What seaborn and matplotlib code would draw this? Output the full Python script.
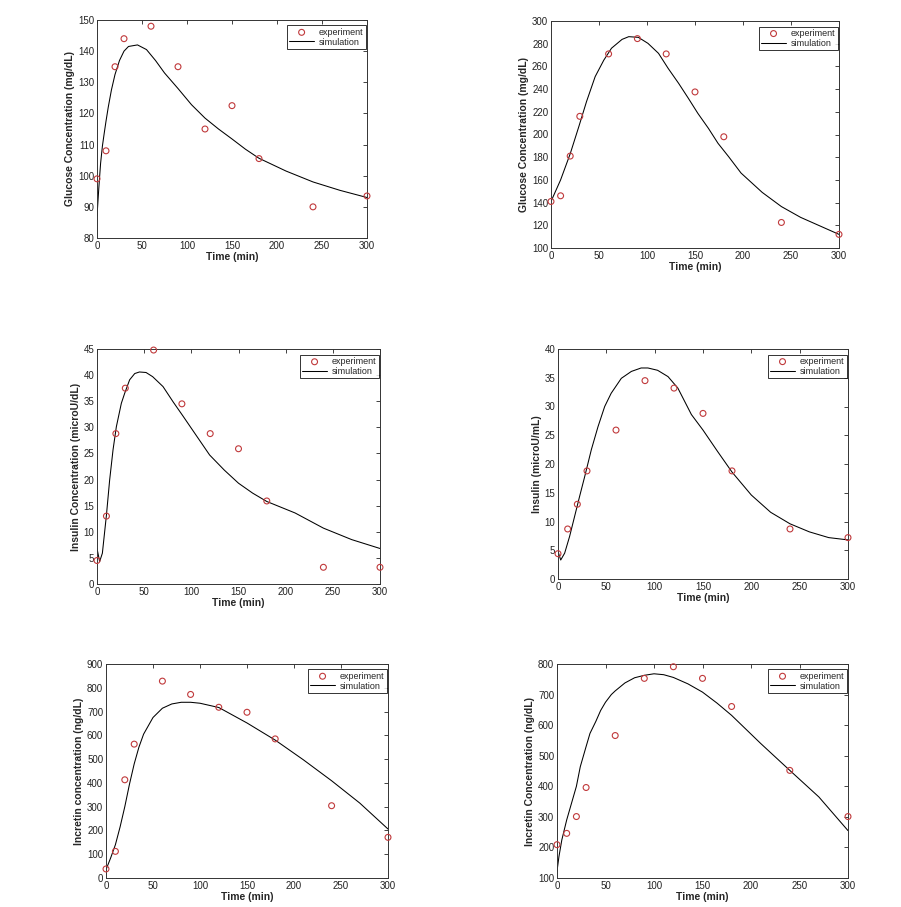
import numpy as np
import pandas as pd
import matplotlib
matplotlib.use("Agg")
import matplotlib.pyplot as plt
import seaborn as sns

# ---------------- data ----------------
t_exp = [0, 10, 20, 30, 60, 90, 120, 150, 180, 240, 300]

glu1_exp = [99, 108, 135, 144, 148, 135, 115, 122.5, 105.5, 90, 93.5]
glu1_t = [0, 2, 4, 6, 8, 10, 12.5, 16, 20, 25, 30, 35, 45, 55, 65, 75, 90, 105,
          120, 135, 150, 165, 180, 210, 240, 270, 300]
glu1_sim = [87, 96, 104, 109.5, 113.6, 117.5, 122, 127.5, 132.5, 137, 140, 141.5,
            142, 140.5, 137, 133, 128, 122.8, 118.5, 115, 111.8, 108.5, 105.6,
            101.5, 98, 95.3, 93]

glu2_exp = [141, 146, 181, 216, 271, 284.5, 271, 237.5, 198, 122.5, 112]
glu2_t = [0, 10, 20, 29, 37, 46, 55, 63, 74, 81, 91, 101, 112, 122, 133, 143,
          153, 164, 174, 185, 198, 220, 240, 260, 280, 300]
glu2_sim = [141, 160, 183, 207, 229, 251, 265.5, 276, 283.8, 286.2, 285.6, 280.3,
            271.5, 258.3, 245, 232, 218.6, 205.4, 192.2, 180.5, 166, 149, 136.5,
            127, 119.5, 112]

ins1_exp = [4.5, 13, 28.8, 37.5, 44.8, 34.5, 28.8, 25.9, 15.9, 3.2, 3.2]
ins1_t = [0, 2.8, 5.7, 10, 13.4, 17, 20.5, 25.8, 29.3, 34.6, 40, 45, 52, 59, 70,
          80.6, 91, 105, 119.4, 135, 150, 165, 180, 210, 240, 270, 300]
ins1_sim = [6.8, 4.3, 5.9, 13.2, 19.9, 25.7, 30.1, 34.6, 36.5, 39.1, 40.3, 40.6,
            40.5, 39.7, 37.8, 34.9, 32.2, 28.5, 24.7, 21.8, 19.3, 17.4, 15.8,
            13.6, 10.7, 8.5, 6.8]

ins2_exp = [4.4, 8.7, 13, 18.8, 25.9, 34.5, 33.2, 28.8, 18.8, 8.7, 7.2]
ins2_t = [0, 2.8, 6.9, 12, 17.2, 22.4, 27.6, 34.5, 41.4, 48.3, 55, 65.5, 75.9, 86,
          93, 103, 113.8, 124, 138, 150, 165, 180, 200, 220, 240, 260, 280, 300]
ins2_sim = [4.8, 3.3, 4.5, 7.4, 10.9, 14.4, 17.8, 22.5, 26.5, 30, 32.3, 34.9, 36.1,
            36.7, 36.7, 36.3, 35.2, 33.2, 28.6, 25.9, 22.2, 18.6, 14.6, 11.6,
            9.6, 8.2, 7.2, 6.8]

inc1_exp = [38, 112, 413, 563, 828, 772, 718, 697, 585, 304, 171]
inc1_t = [0, 5, 10, 15, 20, 25, 30, 35, 40, 50, 60, 70, 80, 90, 100, 120, 150,
          180, 210, 240, 270, 300]
inc1_sim = [35, 85, 140, 215, 300, 395, 480, 550, 605, 675, 714, 732, 739, 739,
            735, 717, 652, 580, 497, 409, 315, 206]

inc2_exp = [209, 246, 301, 396, 566, 753, 791, 753, 661, 452, 301]
inc2_t = [0, 2, 5, 10, 15, 20, 24, 30, 34, 40, 45, 50, 56, 60, 70, 80, 90, 100,
          110, 120, 135, 150, 165, 180, 210, 240, 270, 300]
inc2_sim = [122, 170, 225, 290, 345, 400, 464, 530, 573, 612, 648, 675, 700, 712,
            738, 755, 763, 768, 765, 756, 735, 708, 672, 632, 540, 452, 365, 255]

panels = [
    dict(exp=glu1_exp, t=glu1_t, sim=glu1_sim, ylim=(80, 150), yt=np.arange(80, 151, 10),
         ylabel="Glucose Concentration (mg/dL)", pos=(97, 20, 367, 238)),
    dict(exp=glu2_exp, t=glu2_t, sim=glu2_sim, ylim=(100, 300), yt=np.arange(100, 301, 20),
         ylabel="Glucose Concentration (mg/dL)", pos=(551, 21, 839, 248)),
    dict(exp=ins1_exp, t=ins1_t, sim=ins1_sim, ylim=(0, 45), yt=np.arange(0, 46, 5),
         ylabel="Insulin Concentration (microU/dL)", pos=(97, 349, 380, 584)),
    dict(exp=ins2_exp, t=ins2_t, sim=ins2_sim, ylim=(0, 40), yt=np.arange(0, 41, 5),
         ylabel="Insulin (microU/mL)", pos=(558, 349, 848, 579)),
    dict(exp=inc1_exp, t=inc1_t, sim=inc1_sim, ylim=(0, 900), yt=np.arange(0, 901, 100),
         ylabel="Incretin concentration (ng/dL)", pos=(106, 664, 388, 878)),
    dict(exp=inc2_exp, t=inc2_t, sim=inc2_sim, ylim=(100, 800), yt=np.arange(100, 801, 100),
         ylabel="Incretin Concentration (ng/dL)", pos=(557, 664, 848, 878)),
]

# ---------------- style ----------------
sns.set_style("white")
plt.rcParams["font.family"] = ["Liberation Sans", "DejaVu Sans"]
plt.rcParams["xtick.direction"] = "in"
plt.rcParams["ytick.direction"] = "in"

W, H = 901, 907
fig = plt.figure(figsize=(W / 100, H / 100), dpi=100)
fig.patch.set_facecolor("white")

mcol = "#c0393b"
for p in panels:
    x0, y0, x1, y1 = p["pos"]
    ax = fig.add_axes([x0 / W, (H - y1) / H, (x1 - x0) / W, (y1 - y0) / H])
    sns.scatterplot(x=t_exp, y=p["exp"], ax=ax, marker="o", s=18,
                    facecolors="none", edgecolor=mcol, linewidth=0.8,
                    clip_on=False, zorder=3, label="experiment")
    sns.lineplot(x=p["t"], y=p["sim"], ax=ax, color="black", linewidth=0.75,
                 label="simulation", estimator=None, sort=False)
    ax.set_xlim(0, 300)
    ax.set_ylim(*p["ylim"])
    ax.set_xticks(np.arange(0, 301, 50))
    ax.set_yticks(p["yt"])
    ax.tick_params(axis="both", which="both", direction="in", top=True, right=True,
                   length=3, width=0.6, labelsize=7, pad=2, colors="#222222")
    for s in ax.spines.values():
        s.set_color("#333333")
        s.set_linewidth(0.7)
    ax.set_xlabel("Time (min)", fontsize=7.5, fontweight="bold", labelpad=1)
    ax.set_ylabel(p["ylabel"], fontsize=7.5, fontweight="bold", labelpad=2)
    leg = ax.legend(loc="upper right", bbox_to_anchor=(0.995, 0.975), fontsize=6.5,
                    frameon=True, fancybox=False, handlelength=2.8, borderpad=0.25,
                    labelspacing=0.1, borderaxespad=0, handletextpad=0.5)
    leg.get_frame().set_edgecolor("black")
    leg.get_frame().set_linewidth(0.7)

fig.savefig("out.png", dpi=100, facecolor="white")
